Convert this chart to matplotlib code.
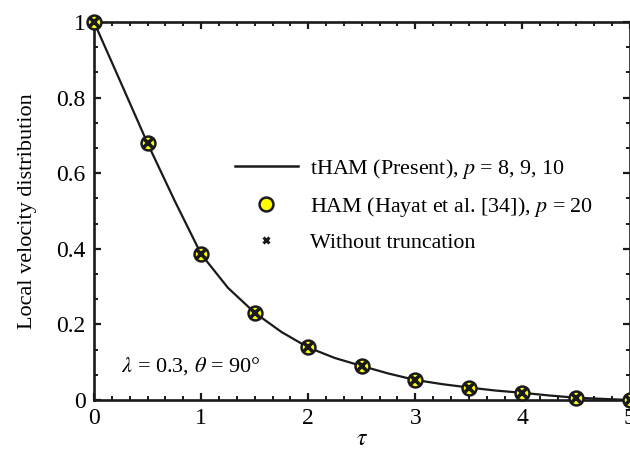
import numpy as np
import matplotlib
matplotlib.use("Agg")
import matplotlib.pyplot as plt
from matplotlib.lines import Line2D
from matplotlib.ticker import MultipleLocator, AutoMinorLocator

# curve (tHAM)
tau_curve = [0.0, 0.25, 0.5, 0.75, 1.0, 1.25, 1.5, 1.75, 2.0, 2.25, 2.5,
             2.75, 3.0, 3.25, 3.5, 3.75, 4.0, 4.25, 4.5, 4.75, 5.0]
vel_curve = [1.0, 0.840, 0.679, 0.529, 0.386, 0.297, 0.231, 0.180, 0.139, 0.111, 0.090,
             0.070, 0.053, 0.042, 0.033, 0.025, 0.019, 0.012, 0.006, 0.003, 0.0]

# HAM / no-truncation points
tau_pts = [0.0, 0.5, 1.0, 1.5, 2.0, 2.5, 3.0, 3.5, 4.0, 4.5, 5.0]
vel_pts = [1.0, 0.679, 0.386, 0.231, 0.139, 0.090, 0.053, 0.033, 0.019, 0.006, 0.0]

labels = [r"tHAM (Present), $p$ = 8, 9, 10",
          r"HAM (Hayat et al. [34]), $p$ = 20",
          "Without truncation"]

plt.rcParams["font.family"] = ["Liberation Serif", "DejaVu Serif"]
plt.rcParams["mathtext.fontset"] = "stix"

fig = plt.figure(figsize=(6.3, 4.51), dpi=100)
ax = fig.add_axes([94 / 630, 1 - 400 / 451, 535.5 / 630, 378 / 451])

ax.plot(tau_curve, vel_curve, color="#1a1a1a", lw=1.6, zorder=2)
ax.plot(tau_pts, vel_pts, ls="none", marker="o", ms=10, mfc="#ffff00", mec="#1a1a1a",
        mew=1.8, clip_on=False, zorder=3)
ax.plot(tau_pts, vel_pts, ls="none", marker="x", ms=6.5, mec="#1a1a1a", mew=2.6,
        clip_on=False, zorder=4)

ax.set_xlim(0, 5)
ax.set_ylim(0, 1)
ax.xaxis.set_major_locator(MultipleLocator(1))
ax.xaxis.set_minor_locator(AutoMinorLocator(6))
ax.yaxis.set_major_locator(MultipleLocator(0.2))
ax.yaxis.set_minor_locator(AutoMinorLocator(3))
ax.set_yticks([0, 0.2, 0.4, 0.6, 0.8, 1.0])
ax.set_yticklabels(["0", "0.2", "0.4", "0.6", "0.8", "1"])
ax.tick_params(which="both", direction="in", top=True, right=True, labelsize=17,
               color="#1a1a1a", pad=6)
ax.tick_params(which="major", length=5, width=1.6)
ax.tick_params(which="minor", length=3, width=1.4)
for s in ax.spines.values():
    s.set_linewidth(1.9)
    s.set_color("#1a1a1a")

ax.set_xlabel(r"$\tau$", fontsize=17, labelpad=0)
ax.set_ylabel("Local velocity distribution", fontsize=16, labelpad=14)

ax.text(0.05, 0.075, r"$\lambda$ = 0.3, $\theta$ = 90°", transform=ax.transAxes,
        fontsize=16, ha="left", va="baseline")

handles = [
    Line2D([], [], color="#1a1a1a", lw=1.8),
    Line2D([], [], ls="none", marker="o", ms=10, mfc="#ffff00", mec="#1a1a1a", mew=1.8),
    Line2D([], [], ls="none", marker="x", ms=5, mec="#1a1a1a", mew=2.2),
]
fig.legend(handles, labels, loc="upper left", bbox_to_anchor=(235 / 630, 1 - 157 / 451),
           frameon=False, fontsize=15.8, handlelength=2.87, handletextpad=0.55,
           labelspacing=0.62, borderaxespad=0, borderpad=0)

fig.savefig("out.png", dpi=100)
